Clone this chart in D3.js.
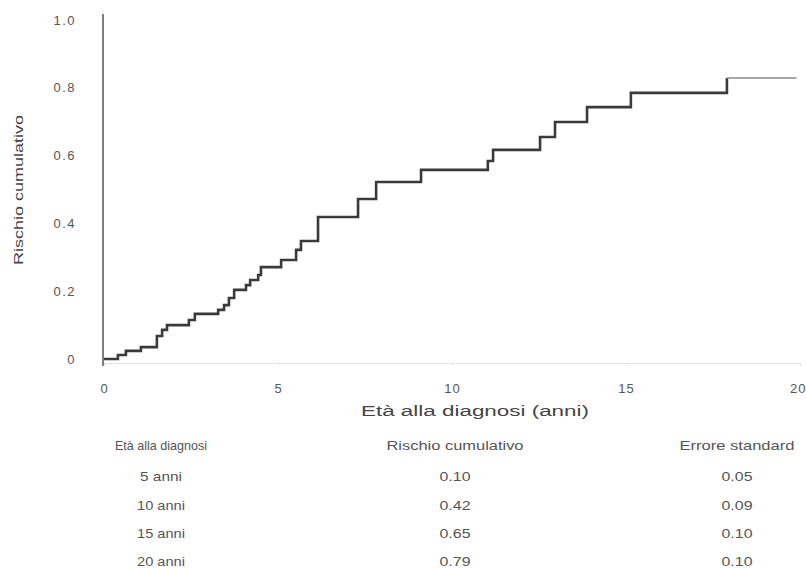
<!DOCTYPE html>
<html>
<head>
<meta charset="utf-8">
<script src="https://cdn.jsdelivr.net/npm/d3@7"></script>
<style>
  html, body { margin: 0; padding: 0; background: #ffffff; }
  svg { display: block; font-family: "Liberation Sans", Arial, sans-serif; }
</style>
</head>
<body>
<svg id="chart" width="806" height="568"></svg>
<script>
// ---- data ----
const stepTimes = [0.40, 0.63, 1.06, 1.52, 1.67, 1.81, 2.44, 2.61, 3.28, 3.45, 3.59, 3.74, 4.08, 4.20, 4.43, 4.51, 5.09, 5.52, 5.66, 6.15, 7.30, 7.82, 9.11, 11.03, 11.18, 12.53, 12.96, 13.88, 15.14, 17.90];
const stepRisk  = [0.012, 0.024, 0.035, 0.068, 0.086, 0.100, 0.115, 0.133, 0.145, 0.159, 0.180, 0.204, 0.218, 0.233, 0.248, 0.271, 0.292, 0.322, 0.348, 0.419, 0.472, 0.522, 0.558, 0.584, 0.617, 0.655, 0.699, 0.743, 0.785, 0.829];
const followUpEnd = 19.9;

const xTicks = [0, 5, 10, 15, 20];
const yTicks = [0, 0.2, 0.4, 0.6, 0.8, 1.0];
const xTitle = "Età alla diagnosi (anni)";
const yTitle = "Rischio cumulativo";

const tableHeaders = ["Età alla diagnosi", "Rischio cumulativo", "Errore standard"];
const tableAges = ["5 anni", "10 anni", "15 anni", "20 anni"];
const tableRisk = ["0.10", "0.42", "0.65", "0.79"];
const tableSE   = ["0.05", "0.09", "0.10", "0.10"];

// ---- chart ----
const svg = d3.select("#chart");
const x = d3.scaleLinear().domain([0, 20]).range([104, 800]);
const y = d3.scaleLinear().domain([0, 1]).range([359, 20]);

// faint x axis
const xAxis = d3.axisBottom(x).tickValues(xTicks).tickSize(3).tickSizeOuter(0).tickPadding(18)
  .tickFormat(d3.format("d"));
const gx = svg.append("g").attr("transform", "translate(0,363)").call(xAxis);
gx.select(".domain").attr("stroke", "#e4e4e4").attr("stroke-width", 1.2);
gx.selectAll(".tick line").attr("stroke", "#e0e0e0");
gx.selectAll(".tick text").attr("fill", "#555").attr("font-size", 13).attr("letter-spacing", "1px")
  .attr("font-family", "Liberation Sans, Arial, sans-serif");
// keep the last tick label inside the picture
gx.selectAll(".tick text").filter(d => d === 20).attr("text-anchor", "end").attr("x", 6);

// y axis
const yAxis = d3.axisLeft(y).tickValues(yTicks).tickSize(0).tickPadding(27)
  .tickFormat(d => d === 0 ? "0" : d3.format(".1f")(d));
const gy = svg.append("g").attr("transform", "translate(103,0)").call(yAxis);
gy.select(".domain").remove();
gy.selectAll(".tick text").attr("fill", "#555").attr("font-size", 13).attr("letter-spacing", "1.5px")
  .attr("font-family", "Liberation Sans, Arial, sans-serif");
svg.append("line").attr("x1", 103).attr("x2", 103).attr("y1", 14).attr("y2", 366)
  .attr("stroke", "#555").attr("stroke-width", 1.5);

// step curve
const pts = [[0, 0]];
stepTimes.forEach((t, i) => pts.push([t, stepRisk[i]]));
const line = d3.line().x(d => x(d[0])).y(d => y(d[1])).curve(d3.curveStepAfter);
svg.append("path").datum(pts)
  .attr("d", line)
  .attr("fill", "none").attr("stroke", "#3a3a3a").attr("stroke-width", 2.6);
svg.append("path").datum([[stepTimes[stepTimes.length - 1], stepRisk[stepRisk.length - 1]], [followUpEnd, stepRisk[stepRisk.length - 1]]])
  .attr("d", line)
  .attr("fill", "none").attr("stroke", "#8a8a8a").attr("stroke-width", 1.6);

// titles
svg.append("text").attr("x", 475).attr("y", 416).attr("text-anchor", "middle")
  .attr("font-size", 14).attr("fill", "#444").attr("textLength", 228).attr("lengthAdjust", "spacingAndGlyphs")
  .text(xTitle);
svg.append("text").attr("transform", "translate(23,190) rotate(-90)").attr("text-anchor", "middle")
  .attr("font-size", 13).attr("fill", "#444").attr("textLength", 150).attr("lengthAdjust", "spacingAndGlyphs")
  .text(yTitle);

// table
const colX = [161, 455, 737];
const headW = [92, 137, 115];
const rowY = [450, 481, 510, 538, 566];
tableHeaders.forEach((h, i) => {
  svg.append("text").attr("x", colX[i]).attr("y", rowY[0]).attr("text-anchor", "middle")
    .attr("font-size", 13).attr("fill", "#555")
    .attr("textLength", headW[i]).attr("lengthAdjust", "spacingAndGlyphs").text(h);
});
const cols = [tableAges, tableRisk, tableSE];
cols.forEach((col, ci) => {
  col.forEach((v, ri) => {
    const w = ci === 0 ? (v.length > 6 ? 48 : 42) : 31;
    svg.append("text").attr("x", colX[ci]).attr("y", rowY[ri + 1]).attr("text-anchor", "middle")
      .attr("font-size", 13).attr("fill", "#555")
      .attr("textLength", w).attr("lengthAdjust", "spacingAndGlyphs").text(v);
  });
});
</script>
</body>
</html>
